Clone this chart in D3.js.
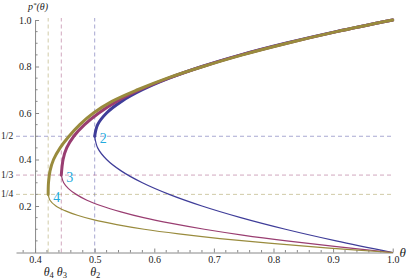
<!DOCTYPE html>
<html>
<head>
<meta charset="utf-8">
<script src="https://cdn.jsdelivr.net/npm/d3@7"></script>
<style>
  body { margin: 0; background: #fff; }
  svg { display: block; }
  text { font-family: "Times New Roman", "Liberation Serif", serif; }
</style>
</head>
<body>
<div id="chart"></div>
<script>
// values: (p, theta) pairs for each branch
const lowP2 = [0, 0.05, 0.1, 0.15, 0.2, 0.25, 0.3, 0.35, 0.4, 0.45, 0.5];
const lowTheta2 = [1.0, 0.905, 0.82, 0.745, 0.68, 0.625, 0.58, 0.545, 0.52, 0.505, 0.5];
const upP2 = [0.5, 0.55, 0.6, 0.65, 0.7, 0.75, 0.8, 0.85, 0.9, 0.95, 1.0];
const upTheta2 = [0.5, 0.505, 0.52, 0.545, 0.58, 0.625, 0.68, 0.745, 0.82, 0.905, 1.0];

const lowP3 = [0, 0.025, 0.05, 0.075, 0.1, 0.125, 0.15, 0.175, 0.2, 0.225, 0.25, 0.275, 0.3, 0.333];
const lowTheta3 = [1.0, 0.906, 0.822, 0.748, 0.684, 0.629, 0.582, 0.544, 0.512, 0.487, 0.469, 0.456, 0.448, 0.444];
const upP3 = [0.333, 0.4, 0.45, 0.5, 0.55, 0.6, 0.65, 0.7, 0.75, 0.8, 0.85, 0.9, 0.95, 1.0];
const upTheta3 = [0.444, 0.447, 0.453, 0.465, 0.483, 0.507, 0.537, 0.576, 0.624, 0.681, 0.746, 0.822, 0.906, 1.0];

const lowP4 = [0, 0.02, 0.04, 0.06, 0.08, 0.1, 0.12, 0.14, 0.16, 0.18, 0.2, 0.225, 0.25];
const lowTheta4 = [1.0, 0.888, 0.792, 0.71, 0.641, 0.583, 0.537, 0.499, 0.471, 0.45, 0.435, 0.425, 0.422];
const upP4 = [0.25, 0.3, 0.35, 0.4, 0.45, 0.5, 0.55, 0.6, 0.65, 0.7, 0.75, 0.8, 0.85, 0.9, 0.95, 1.0];
const upTheta4 = [0.422, 0.4225, 0.425, 0.431, 0.442, 0.457, 0.475, 0.498, 0.529, 0.572, 0.622, 0.682, 0.748, 0.823, 0.906, 1.0];

// thresholds
const thetaMarks = [0.5, 0.444, 0.422];
const thetaMarkSubs = ["2", "3", "4"];
const pMarks = [0.5, 0.333, 0.25];
const pMarkLabels = ["1/2", "1/3", "1/4"];
const curveNames = ["2", "3", "4"];

const xMajor = [0.4, 0.5, 0.6, 0.7, 0.8, 0.9, 1.0];
const yMajor = [0.2, 0.4, 0.6, 0.8, 1.0];

const colors = ["#3f3d99", "#993d71", "#998b3d"];

const W = 407, H = 279;
const serif = "'Times New Roman', 'Liberation Serif', serif";

const svg = d3.select("#chart").append("svg")
    .attr("width", W)
    .attr("height", H);

let x = d3.scaleLinear().domain([0.368, 1.0]).range([16, 392.7]);
let y = d3.scaleLinear().domain([0, 1]).range([252.5, 20]);

// dashed threshold lines
svg.selectAll("vline")
  .data(thetaMarks)
  .enter()
  .append("line")
    .attr("x1", d => x(d))
    .attr("x2", d => x(d))
    .attr("y1", y(0))
    .attr("y2", y(1) - 2)
    .attr("stroke", (d, i) => colors[i])
    .attr("stroke-opacity", 0.45)
    .attr("stroke-width", 1)
    .attr("stroke-dasharray", "4,3");

svg.selectAll("hline")
  .data(pMarks)
  .enter()
  .append("line")
    .attr("x1", x.range()[0])
    .attr("x2", x(1))
    .attr("y1", d => y(d))
    .attr("y2", d => y(d))
    .attr("stroke", (d, i) => colors[i])
    .attr("stroke-opacity", 0.45)
    .attr("stroke-width", 1)
    .attr("stroke-dasharray", "4,3");

// X axis
let xMinor = d3.range(0.38, 1.001, 0.02).filter(v => !xMajor.some(m => Math.abs(m - v) < 1e-6));
let xAxis = svg.append("g")
  .attr("transform", "translate(0," + y(0) + ")")
  .call(d3.axisBottom(x).tickValues(xMajor).tickSize(-4).tickSizeOuter(0)
        .tickPadding(3.5).tickFormat(d3.format(".1f")));
xAxis.selectAll("line.minor")
  .data(xMinor)
  .enter()
  .append("line")
    .attr("class", "minor")
    .attr("x1", d => x(d))
    .attr("x2", d => x(d))
    .attr("y1", 0)
    .attr("y2", -2.5);

// Y axis
let yMinor = d3.range(0.05, 1.001, 0.05).filter(v => !yMajor.some(m => Math.abs(m - v) < 1e-6));
let yAxis = svg.append("g")
  .attr("transform", "translate(" + x(0.4) + ",0)")
  .call(d3.axisLeft(y).tickValues(yMajor).tickSize(-4).tickSizeOuter(0)
        .tickPadding(3.5).tickFormat(d3.format(".1f")));
yAxis.selectAll("line.minor")
  .data(yMinor)
  .enter()
  .append("line")
    .attr("class", "minor")
    .attr("x1", 0)
    .attr("x2", 2.5)
    .attr("y1", d => y(d))
    .attr("y2", d => y(d));

svg.selectAll("g").attr("font-family", serif);
svg.selectAll(".domain, .tick line, line.minor")
  .attr("stroke", "#888")
  .attr("stroke-width", 1);
svg.selectAll(".tick text")
  .attr("fill", "#222")
  .attr("font-size", 10);

// curves
const branches = [
  [lowP2, lowTheta2, upP2, upTheta2],
  [lowP3, lowTheta3, upP3, upTheta3],
  [lowP4, lowTheta4, upP4, upTheta4]
];

let line = d3.line()
  .x(d => x(d[1]))
  .y(d => y(d[0]))
  .curve(d3.curveCatmullRom.alpha(0.5));

branches.forEach(function (b, i) {
  let low = b[0].map((p, k) => [p, b[1][k]]);
  let up = b[2].map((p, k) => [p, b[3][k]]);
  svg.append("path")
    .datum(low)
    .attr("d", line)
    .attr("fill", "none")
    .attr("stroke", colors[i])
    .attr("stroke-width", 1.2);
  svg.append("path")
    .datum(up)
    .attr("d", line)
    .attr("fill", "none")
    .attr("stroke", colors[i])
    .attr("stroke-width", 3)
    .attr("stroke-linecap", "round");
});

// curve numbers next to the turning points
svg.selectAll("curvelabel")
  .data(curveNames)
  .enter()
  .append("text")
    .attr("x", (d, i) => x(thetaMarks[i]) + 5)
    .attr("y", (d, i) => y(pMarks[i]) + 7.2)
    .attr("fill", "#22aadd")
    .style("font-size", "14px")
    .text(d => d);

// fraction labels on the left
svg.selectAll("plabel")
  .data(pMarkLabels)
  .enter()
  .append("text")
    .attr("x", 1)
    .attr("y", (d, i) => y(pMarks[i]))
    .attr("dy", "0.32em")
    .attr("fill", "#222")
    .style("font-size", "9.5px")
    .text(d => d);

// theta_n labels below the axis
let tl = svg.selectAll("tlabel")
  .data(thetaMarkSubs)
  .enter()
  .append("text")
    .attr("x", (d, i) => x(thetaMarks[i]) - 4.5)
    .attr("y", 276)
    .attr("fill", "#222")
    .style("font-size", "12px");
tl.append("tspan").style("font-style", "italic").text("θ");
tl.append("tspan").attr("dy", 2).style("font-size", "8.5px").text(d => d);

// axis titles
svg.append("text")
  .attr("x", 399.5)
  .attr("y", 257)
  .attr("fill", "#222")
  .style("font-size", "13px")
  .style("font-style", "italic")
  .text("θ");

let yt = svg.append("text")
  .attr("x", 28)
  .attr("y", 10)
  .attr("fill", "#222")
  .style("font-size", "10px")
  .style("font-style", "italic");
yt.append("tspan").text("p");
yt.append("tspan").attr("dy", -3).style("font-size", "7px").text("*");
yt.append("tspan").attr("dy", 3).text("(θ)");
</script>
</body>
</html>
